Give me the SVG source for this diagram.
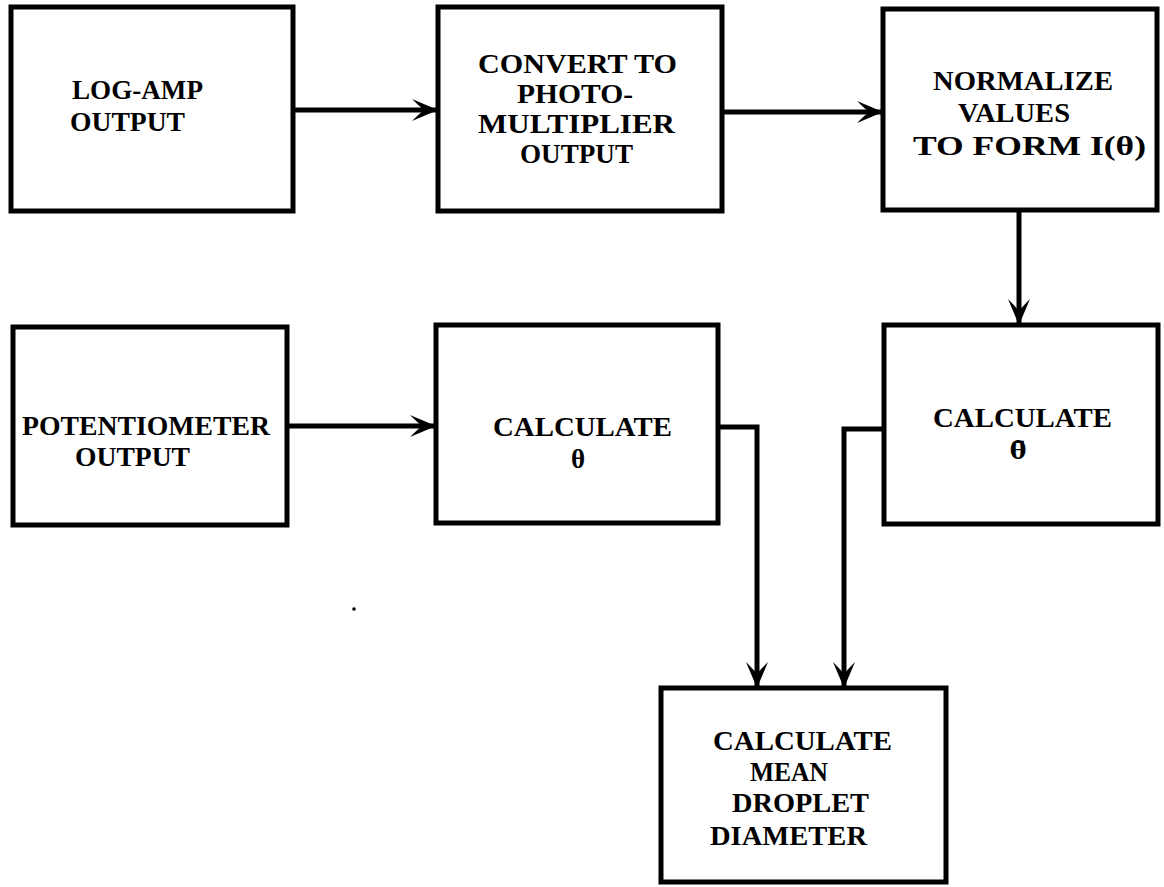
<svg xmlns="http://www.w3.org/2000/svg" width="1164" height="887" viewBox="0 0 1164 887">
<style>
.box{fill:#fff;stroke:#000;stroke-width:5;stroke-linejoin:miter}
.t{font-family:"Liberation Serif","DejaVu Serif",serif;font-weight:bold;font-size:27px;fill:#000}
.g{font-family:"DejaVu Serif","Liberation Serif",serif;font-weight:bold;font-size:25px;fill:#000}
.c{fill:none;stroke:#000;stroke-width:5;marker-end:url(#ah)}
</style>
<defs>
<marker id="ah" markerUnits="userSpaceOnUse" viewBox="-27 -13 29 26" refX="0" refY="0" markerWidth="29" markerHeight="26" orient="auto">
<path d="M1,0 L-25,-11 Q-18,-4 -13,0 Q-18,4 -25,11 Z" fill="#000"/>
</marker>
</defs>
<rect width="1164" height="887" fill="#fff"/>
<g id="connectors">
<path class="c" d="M293,110 H437"/>
<path class="c" d="M722,112 H882"/>
<path class="c" d="M1019,210 V324"/>
<path class="c" d="M287,426 H435"/>
<path class="c" d="M718,427 H757 V687"/>
<path class="c" d="M884,429 H844 V687"/>
</g>
<g id="log-amp">
<rect class="box" x="11" y="7" width="282" height="204"/>
<text class="t" x="72" y="99" textLength="131" lengthAdjust="spacingAndGlyphs">LOG-AMP</text>
<text class="t" x="70" y="131" textLength="115" lengthAdjust="spacingAndGlyphs">OUTPUT</text>
</g>
<g id="convert">
<rect class="box" x="438" y="7" width="284" height="204"/>
<text class="t" x="478" y="73" textLength="199" lengthAdjust="spacingAndGlyphs">CONVERT TO</text>
<text class="t" x="517" y="103" textLength="116" lengthAdjust="spacingAndGlyphs">PHOTO-</text>
<text class="t" x="478" y="133" textLength="197" lengthAdjust="spacingAndGlyphs">MULTIPLIER</text>
<text class="t" x="520" y="163" textLength="113" lengthAdjust="spacingAndGlyphs">OUTPUT</text>
</g>
<g id="normalize">
<rect class="box" x="883" y="9" width="274" height="201"/>
<text class="t" x="933" y="90" textLength="180" lengthAdjust="spacingAndGlyphs">NORMALIZE</text>
<text class="t" x="958" y="122" textLength="112" lengthAdjust="spacingAndGlyphs">VALUES</text>
<text class="t" x="913" y="155" textLength="233" lengthAdjust="spacingAndGlyphs">TO FORM I(θ)</text>
</g>
<g id="calc-theta-bar">
<rect class="box" x="884" y="325" width="274" height="199"/>
<text class="t" x="933" y="427" textLength="179" lengthAdjust="spacingAndGlyphs">CALCULATE</text>
<text class="g" x="1018" y="459" text-anchor="middle">θ̄</text>
</g>
<g id="potentiometer">
<rect class="box" x="13" y="327" width="274" height="198"/>
<text class="t" x="22" y="435" textLength="248" lengthAdjust="spacingAndGlyphs">POTENTIOMETER</text>
<text class="t" x="75" y="466" textLength="115" lengthAdjust="spacingAndGlyphs">OUTPUT</text>
</g>
<g id="calc-theta">
<rect class="box" x="436" y="325" width="282" height="198"/>
<text class="t" x="493" y="436" textLength="179" lengthAdjust="spacingAndGlyphs">CALCULATE</text>
<text class="t" x="578" y="468" text-anchor="middle">θ</text>
</g>
<g id="calc-mean">
<rect class="box" x="661" y="688" width="285" height="194"/>
<text class="t" x="713" y="750" textLength="179" lengthAdjust="spacingAndGlyphs">CALCULATE</text>
<text class="t" x="750" y="781" textLength="78" lengthAdjust="spacingAndGlyphs">MEAN</text>
<text class="t" x="732" y="812" textLength="137" lengthAdjust="spacingAndGlyphs">DROPLET</text>
<text class="t" x="710" y="845" textLength="157" lengthAdjust="spacingAndGlyphs">DIAMETER</text>
</g>
<circle cx="354" cy="609" r="1.8" fill="#000"/>
</svg>
